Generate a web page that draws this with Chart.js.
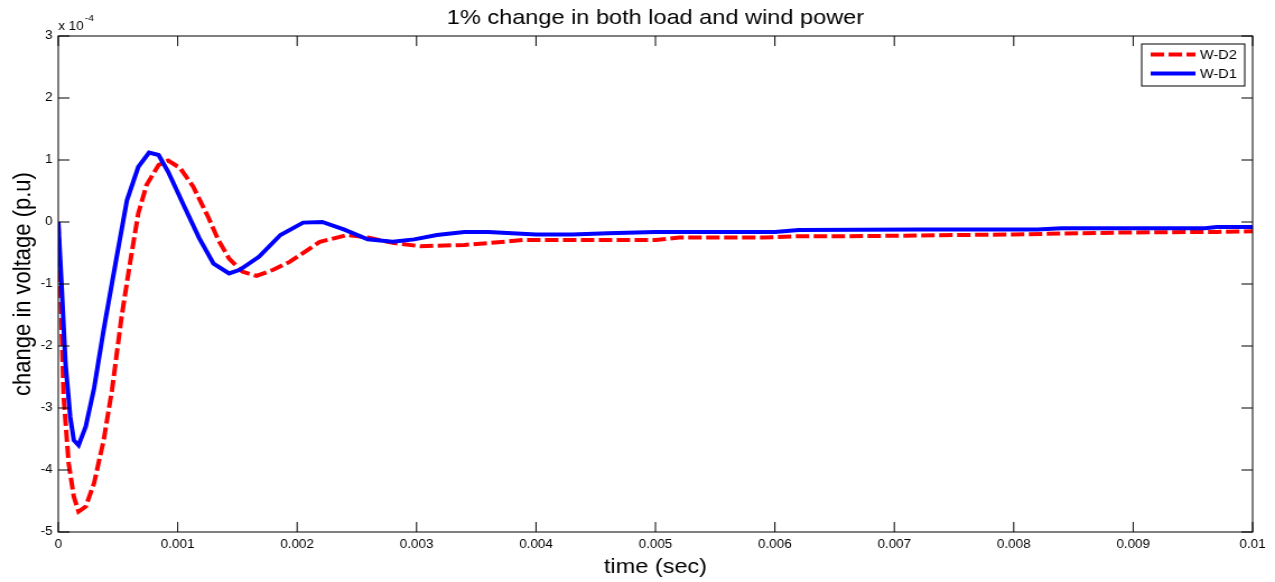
<!DOCTYPE html>
<html>
<head>
<meta charset="utf-8">
<title>1% change in both load and wind power</title>
<script src="https://cdn.jsdelivr.net/npm/chart.js@4.4.1/dist/chart.umd.min.js"></script>
<style>
  html, body { margin: 0; padding: 0; background: #fff; overflow: hidden; }
  /* the reference picture is a MATLAB figure stretched sideways, so draw narrower and stretch */
  #wrap { width: 1138px; height: 582px; transform: scaleX(1.12039); transform-origin: 0 0; }
</style>
</head>
<body>
<div id="wrap"><canvas id="chart" width="1138" height="582"></canvas></div>
<script>
// time in seconds, voltage change in units of 1e-4 p.u.
const wd2Time = [0, 0.00002, 0.000045, 0.000087, 0.00013, 0.00017, 0.00023, 0.0003, 0.00038, 0.00045,
  0.00053, 0.0006, 0.00067, 0.00074, 0.00084, 0.00092, 0.00102, 0.00113, 0.00126, 0.00134,
  0.00143, 0.00154, 0.00166, 0.0018, 0.00194, 0.00219, 0.00242, 0.00259, 0.00281, 0.00303,
  0.0034, 0.0036, 0.0039, 0.005, 0.0052, 0.0059, 0.0062, 0.0066, 0.008, 0.0089, 0.0097, 0.01];
const wd2Volt = [0, -1.2, -2.82, -3.89, -4.43, -4.67, -4.59, -4.21, -3.52, -2.71,
  -1.53, -0.67, 0.14, 0.6, 0.92, 0.99, 0.87, 0.57, 0.06, -0.29,
  -0.59, -0.8, -0.87, -0.77, -0.64, -0.32, -0.21, -0.25, -0.34, -0.39,
  -0.37, -0.34, -0.29, -0.29, -0.25, -0.25, -0.23, -0.23, -0.2, -0.17, -0.16, -0.15];

const wd1Time = [0, 0.00003, 0.00006, 0.0001, 0.00013, 0.00017, 0.00023, 0.0003, 0.00038, 0.00048,
  0.000575, 0.00067, 0.00076, 0.00084, 0.00092, 0.00105, 0.00118, 0.0013, 0.00143, 0.00152,
  0.00168, 0.00186, 0.00205, 0.00221, 0.00239, 0.00259, 0.0028, 0.00298, 0.00317, 0.0034,
  0.0036, 0.0038, 0.004, 0.0043, 0.0046, 0.005, 0.006, 0.0062, 0.0072, 0.0082, 0.0084, 0.0096, 0.0097, 0.01];
const wd1Volt = [0, -1.1, -2.27, -3.14, -3.52, -3.6, -3.3, -2.68, -1.74, -0.66,
  0.35, 0.89, 1.12, 1.08, 0.81, 0.27, -0.26, -0.67, -0.83, -0.77,
  -0.56, -0.21, -0.01, 0, -0.12, -0.28, -0.32, -0.28, -0.21, -0.16,
  -0.16, -0.18, -0.2, -0.2, -0.18, -0.16, -0.16, -0.13, -0.12, -0.12, -0.1, -0.1, -0.08, -0.08];

const seriesNames = ['W-D2', 'W-D1'];
const titleText = '1% change in both load and wind power';
const xTitle = 'time (sec)';
const yTitle = 'change in voltage (p.u)';

const FONT = '"Liberation Sans", Arial, sans-serif';

const toPoints = (ts, vs) => ts.map((t, i) => ({ x: t, y: vs[i] }));

// box, inward ticks, title, exponent and legend, MATLAB style
const matlabAxes = {
  id: 'matlabAxes',
  afterDraw(chart) {
    const { ctx, chartArea: a, scales } = chart;
    ctx.save();
    ctx.strokeStyle = '#000';
    ctx.lineWidth = 1;
    ctx.strokeRect(a.left, a.top, a.right - a.left, a.bottom - a.top);

    ctx.beginPath();
    scales.x.ticks.forEach(t => {
      const px = scales.x.getPixelForValue(t.value);
      ctx.moveTo(px, a.bottom); ctx.lineTo(px, a.bottom - 10);
      ctx.moveTo(px, a.top); ctx.lineTo(px, a.top + 10);
    });
    scales.y.ticks.forEach(t => {
      const py = scales.y.getPixelForValue(t.value);
      ctx.moveTo(a.left, py); ctx.lineTo(a.left + 10, py);
      ctx.moveTo(a.right, py); ctx.lineTo(a.right - 10, py);
    });
    ctx.stroke();

    // title
    ctx.fillStyle = '#000';
    ctx.textAlign = 'center';
    ctx.textBaseline = 'middle';
    ctx.font = '21px ' + FONT;
    ctx.fillText(titleText, (a.left + a.right) / 2, 18);

    // exponent label
    ctx.textAlign = 'left';
    ctx.font = '12px ' + FONT;
    ctx.fillText('x 10', a.left, 27);
    const w = ctx.measureText('x 10').width;
    ctx.font = '9px ' + FONT;
    ctx.fillText('-4', a.left + w + 1, 19);

    // legend
    const lx = 1019, ly = 44, lw = 92, lh = 42;
    ctx.fillStyle = '#fff';
    ctx.fillRect(lx, ly, lw, lh);
    ctx.strokeStyle = '#000';
    ctx.lineWidth = 1;
    ctx.strokeRect(lx, ly, lw, lh);
    chart.data.datasets.forEach((ds, i) => {
      const y = ly + 10.5 + i * 19;
      ctx.strokeStyle = ds.borderColor;
      ctx.lineWidth = ds.borderWidth;
      ctx.setLineDash(ds.borderDash || []);
      ctx.beginPath();
      ctx.moveTo(lx + 8, y);
      ctx.lineTo(lx + 48, y);
      ctx.stroke();
      ctx.setLineDash([]);
      ctx.fillStyle = '#000';
      ctx.font = '13px ' + FONT;
      ctx.fillText(ds.label, lx + 52, y + 0.5);
    });
    ctx.restore();
  }
};

new Chart(document.getElementById('chart'), {
  type: 'line',
  data: {
    datasets: [
      {
        label: seriesNames[0],
        data: toPoints(wd2Time, wd2Volt),
        borderColor: '#ff0000',
        borderWidth: 4,
        borderDash: [12, 4],
        pointRadius: 0,
        tension: 0,
        fill: false,
        order: 2
      },
      {
        label: seriesNames[1],
        data: toPoints(wd1Time, wd1Volt),
        borderColor: '#0000ff',
        borderWidth: 4,
        pointRadius: 0,
        tension: 0,
        fill: false,
        order: 1
      }
    ]
  },
  options: {
    responsive: false,
    animation: false,
    devicePixelRatio: 1,
    events: [],
    layout: { padding: { top: 36, right: 20, left: 0, bottom: 0 } },
    plugins: {
      legend: { display: false },
      title: { display: false },
      tooltip: { enabled: false }
    },
    scales: {
      x: {
        type: 'linear',
        min: 0,
        max: 0.01,
        grid: { display: false, drawTicks: false },
        border: { display: false },
        ticks: {
          stepSize: 0.001,
          autoSkip: false,
          maxRotation: 0,
          padding: 5,
          color: '#000',
          font: { family: FONT, size: 12 },
          callback: v => String(+v.toFixed(3))
        },
        title: {
          display: true,
          text: xTitle,
          color: '#000',
          font: { family: FONT, size: 21 },
          padding: { top: 0, bottom: 2 }
        },
        afterFit(scale) { scale.height = 50; }
      },
      y: {
        min: -5,
        max: 3,
        grid: { display: false, drawTicks: false },
        border: { display: false },
        ticks: {
          stepSize: 1,
          padding: 5,
          color: '#000',
          font: { family: FONT, size: 12 }
        },
        title: {
          display: true,
          text: yTitle,
          color: '#000',
          font: { family: FONT, size: 22 },
          padding: { top: 8, bottom: 0 }
        },
        afterFit(scale) { scale.width = 52; }
      }
    }
  },
  plugins: [matlabAxes]
});
</script>
</body>
</html>
